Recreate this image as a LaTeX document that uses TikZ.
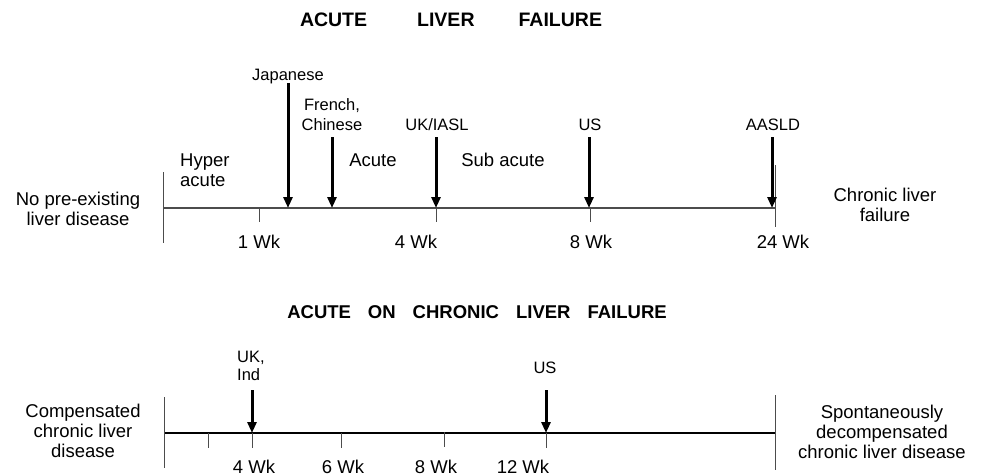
\documentclass[tikz,border=0pt]{standalone}
\usepackage{fontspec}
\setmainfont{Liberation Sans}
\usetikzlibrary{arrows.meta}
\begin{document}
\begin{tikzpicture}[x=1pt,y=-1pt,
  lbl/.style={font=\fontsize{18.5}{20}\selectfont, inner sep=0pt, anchor=base, align=center},
  sml/.style={font=\fontsize{16.5}{19}\selectfont, inner sep=0pt, anchor=base, align=center},
  ttl/.style={font=\fontsize{19.5}{22}\selectfont\bfseries, inner sep=0pt, anchor=base},
  axisline/.style={line width=1.5pt, draw=black!70},
  axisline2/.style={line width=1.3pt, draw=black},
  tickline/.style={line width=0.9pt, draw=black!70},
  arr/.style={line width=3pt, -{Triangle[width=9pt,length=11pt]}}
]
\useasboundingbox (0,0) rectangle (987,476);
\fill[white] (0,0) rectangle (987,476);

% ---------- ACUTE LIVER FAILURE ----------
\node[ttl] (t1) at (451,27) {ACUTE\hspace{50pt}LIVER\hspace{44pt}FAILURE};

\coordinate (a0) at (163,208);
\coordinate (a1) at (775,208);
\draw[axisline] (a0) -- (a1);
\coordinate (lb0) at (163,172); \coordinate (lb1) at (163,243);
\draw[tickline] (lb0) -- (lb1);
\coordinate (rb0) at (775,165); \coordinate (rb1) at (775,227);
\draw[tickline] (rb0) -- (rb1);

\coordinate (k1a) at (259,208); \coordinate (k1b) at (259,222);
\coordinate (k4a) at (436,208); \coordinate (k4b) at (436,222);
\coordinate (k8a) at (590,208); \coordinate (k8b) at (590,222);
\draw[tickline] (k1a) -- (k1b);
\draw[tickline] (k4a) -- (k4b);
\draw[tickline] (k8a) -- (k8b);

\coordinate (jpS) at (288,83);  \coordinate (jpE) at (288,208);
\coordinate (frS) at (332,137); \coordinate (frE) at (332,208);
\coordinate (ukS) at (436,137); \coordinate (ukE) at (436,208);
\coordinate (usS) at (589,137); \coordinate (usE) at (589,208);
\coordinate (aaS) at (772,137); \coordinate (aaE) at (772,208);
\draw[arr] (jpS) -- (jpE);
\draw[arr] (frS) -- (frE);
\draw[arr] (ukS) -- (ukE);
\draw[arr] (usS) -- (usE);
\draw[arr] (aaS) -- (aaE);

\node[sml] (jp) at (288,81) {Japanese};
\node[sml] (fr) at (332,130) {French,\\Chinese};
\node[sml] (uk) at (437,130) {UK/IASL};
\node[sml] (us) at (590,130) {US};
\node[sml] (aa) at (773,130) {AASLD};

\node[lbl, anchor=base west, align=left] (hy) at (180,186) {Hyper\\acute};
\node[lbl] (ac) at (373,166) {Acute};
\node[lbl] (sa) at (503,166) {Sub acute};

\node[lbl] (np) at (78,225) {No pre-existing\\liver disease};
\node[lbl] (cl) at (885,221) {Chronic liver\\failure};

\node[lbl] (w1) at (259,248) {1 Wk};
\node[lbl] (w4) at (416,248) {4 Wk};
\node[lbl] (w8) at (591,248) {8 Wk};
\node[lbl] (w24) at (783,248) {24 Wk};

% ---------- ACUTE ON CHRONIC LIVER FAILURE ----------
\node[ttl, font=\fontsize{18.5}{22}\selectfont\bfseries] (t2) at (477,318) {ACUTE\hspace{17pt}ON\hspace{17pt}CHRONIC\hspace{17pt}LIVER\hspace{17pt}FAILURE};

\coordinate (b0) at (164,433);
\coordinate (b1) at (775,433);
\draw[axisline2] (b0) -- (b1);
\coordinate (blb0) at (164,397); \coordinate (blb1) at (164,468);
\draw[tickline] (blb0) -- (blb1);
\coordinate (brb0) at (775,395); \coordinate (brb1) at (775,470);
\draw[tickline] (brb0) -- (brb1);

\coordinate (m2a) at (208,433); \coordinate (m2b) at (208,448);
\coordinate (m4a) at (252,433); \coordinate (m4b) at (252,448);
\coordinate (m6a) at (341,433); \coordinate (m6b) at (341,448);
\coordinate (m8a) at (444,432); \coordinate (m8b) at (444,447);
\coordinate (m12a) at (546,433); \coordinate (m12b) at (546,448);
\draw[tickline] (m2a) -- (m2b);
\draw[tickline] (m4a) -- (m4b);
\draw[tickline] (m6a) -- (m6b);
\draw[tickline] (m8a) -- (m8b);
\draw[tickline] (m12a) -- (m12b);

\coordinate (uiS) at (252,390); \coordinate (uiE) at (252,433);
\coordinate (u2S) at (546,390); \coordinate (u2E) at (546,433);
\draw[arr] (uiS) -- (uiE);
\draw[arr] (u2S) -- (u2E);

\node[sml, anchor=base west, align=left, font=\fontsize{16.5}{18}\selectfont] (ui) at (237,380) {UK,\\Ind};
\node[sml] (us2) at (545,373) {US};

\node[lbl] (cc) at (83,457) {Compensated\\chronic liver\\disease};
\node[lbl] (sd) at (882,458) {Spontaneously\\decompensated\\chronic liver disease};

\node[lbl] (v4) at (254,473) {4 Wk};
\node[lbl] (v6) at (343,473) {6 Wk};
\node[lbl] (v8) at (436,473) {8 Wk};
\node[lbl] (v12) at (523,473) {12 Wk};
\end{tikzpicture}
\end{document}
